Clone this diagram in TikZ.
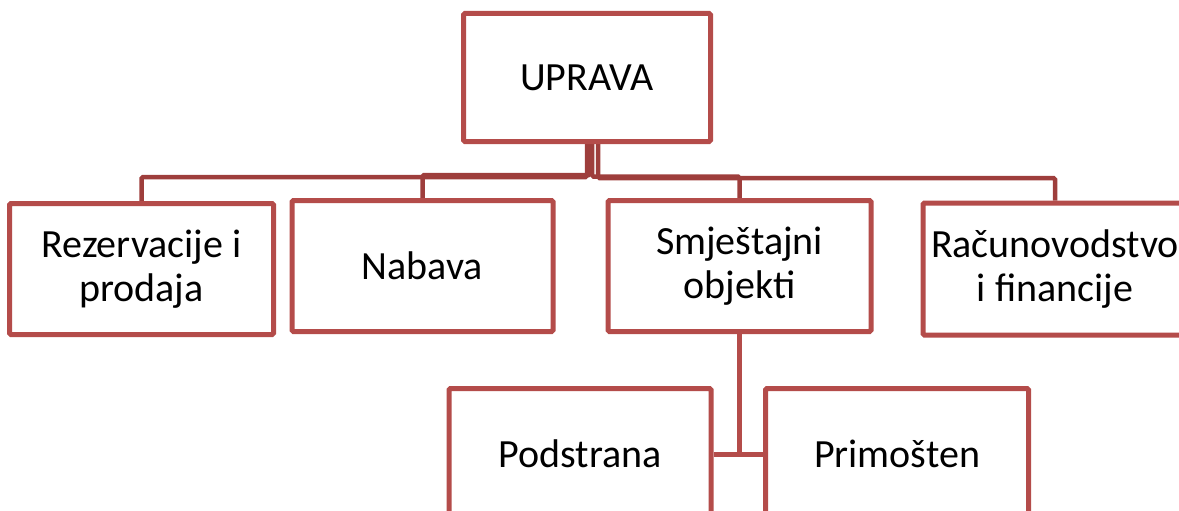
\documentclass[tikz,border=0pt]{standalone}
\usepackage{fontspec}
\setmainfont{Carlito}
\usetikzlibrary{backgrounds}
\definecolor{boxc}{RGB}{180,76,74}
\definecolor{linec}{RGB}{158,62,60}
\tikzset{
  orgbox/.style={draw=boxc, line width=5pt, rounded corners=1.5pt, fill=white,
    inner sep=0pt, align=center, font=\fontsize{40}{44}\selectfont},
  conn/.style={draw=linec, line width=4.5pt, rounded corners=1.5pt},
  subconn/.style={draw=boxc, line width=5pt}
}
\begin{document}
\begin{tikzpicture}[x=1pt,y=-1pt]
\useasboundingbox (0,0) rectangle (1179,511);
\clip (0,0) rectangle (1179,511);
\node[orgbox, minimum width=247pt, minimum height=128pt] (up) at (587,77.5) {UPRAVA};
\node[orgbox, minimum width=264pt, minimum height=131pt] (rez) at (141.5,269) {Rezervacije i\\prodaja};
\node[orgbox, minimum width=261pt, minimum height=131pt] (nab) at (422.5,266) {Nabava};
\node[orgbox, minimum width=263pt, minimum height=131pt] (smj) at (739.5,266) {Smještajni\\objekti};
\node[orgbox, minimum width=264pt, minimum height=132pt] (rac) at (1055,269) {Računovodstvo\\i financije};
\node[orgbox, minimum width=262pt, minimum height=131pt] (pod) at (580,454) {Podstrana};
\node[orgbox, minimum width=263pt, minimum height=131pt] (pri) at (897,454) {Primošten};
\coordinate (s1) at (587,141);
\coordinate (s2) at (590,141);
\coordinate (s3) at (592,141);
\coordinate (s4) at (598,141);
\coordinate (j) at (739.5,454);
\begin{scope}[on background layer]
\path[conn] (s1) -- ++(0,36) -| (rez.north);
\path[conn] (s2) -- ++(0,34) -| (nab.north);
\path[conn] (s3) -- ++(0,35.5) -| (smj.north);
\path[conn] (s4) -- ++(0,37) -| (rac.north);
\path[subconn] (smj.south) -- (j);
\path[subconn] (pod.east) -- (j) -- (pri.west);
\end{scope}
\end{tikzpicture}
\end{document}
